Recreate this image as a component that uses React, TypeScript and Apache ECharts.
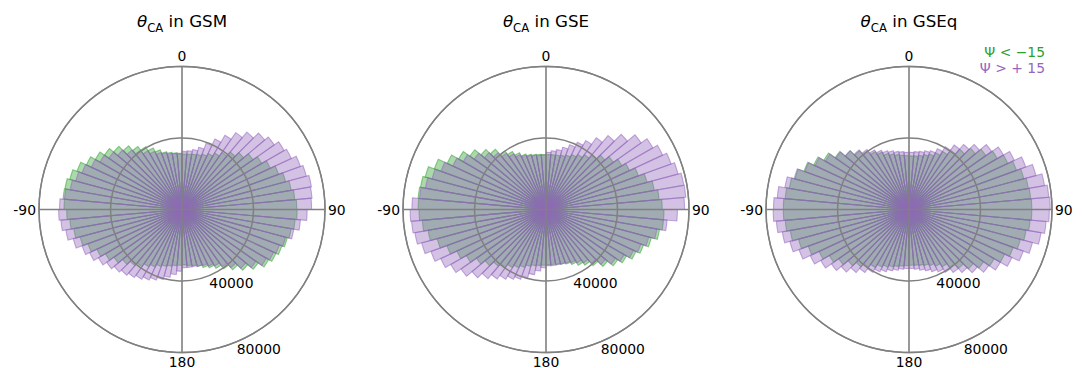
import React, { useEffect, useRef } from 'react';
import * as echarts from 'echarts';

// 72 angular bins of 5 degrees, starting at 0 (top), clockwise
const BIN_STARTS = Array.from({ length: 72 }, (_, i) => i * 5);
const PANEL_NAMES = ['GSM', 'GSE', 'GSEq'];
const RADIAL_MAX = 80000;
const RADIAL_STEP = 40000;
const LEGEND_NEG = 'Ψ < −15';
const LEGEND_POS = 'Ψ > + 15';

// counts per bin, Psi < -15
const GSM_NEG = [
  31000, 31200, 31500, 32000, 33000, 34500, 36500, 39000, 42000, 45000, 48500, 51500, 54500, 57500, 60000, 62000, 63300, 64200,
  64400, 63500, 62000, 61000, 59500, 58000, 56000, 52000, 48000, 44000, 40500, 38000, 36000, 34500, 33000, 32000, 31500, 31000,
  31200, 31500, 32200, 33000, 34000, 35500, 37000, 39000, 41000, 43500, 46500, 49500, 52500, 56000, 59000, 61500, 63000, 64500,
  66000, 66800, 66500, 65000, 62500, 59000, 56000, 53000, 50000, 46500, 43000, 40500, 38000, 35500, 33500, 32500, 31800, 31200,
];
// counts per bin, Psi > +15
const GSM_POS = [
  32500, 33000, 34000, 36000, 39500, 43500, 48000, 52500, 56500, 60500, 63000, 66000, 67500, 70500, 72000, 73500, 73000, 72500,
  70000, 66500, 63500, 60000, 58000, 56500, 54500, 50500, 46500, 42500, 39000, 36500, 35000, 33500, 33000, 32500, 32500, 32500,
  34500, 36500, 38500, 40500, 42000, 43500, 45000, 46500, 48000, 49500, 51500, 54000, 57000, 59500, 63000, 66000, 68000, 69000,
  68500, 66000, 63500, 61500, 59500, 56000, 53000, 50000, 47000, 43500, 40500, 38000, 36000, 34000, 33000, 32000, 31500, 31500,
];
const GSE_NEG = [
  30800, 30800, 31000, 31500, 32500, 34000, 35500, 37500, 40000, 43000, 46000, 49000, 51500, 55000, 58500, 61500, 63500, 65000,
  66000, 66000, 64500, 61000, 58000, 55500, 52000, 49000, 45000, 41000, 38000, 36000, 34000, 32500, 31800, 31200, 31000, 31000,
  31200, 31500, 32000, 33000, 34500, 36000, 37500, 39500, 41500, 44500, 47500, 51500, 55000, 59000, 63000, 67000, 69500, 71000,
  71500, 71800, 71300, 70000, 66500, 61000, 56500, 52000, 47500, 44000, 40000, 37500, 35000, 33000, 32000, 31300, 31000, 30800,
];
const GSE_POS = [
  32000, 33000, 34000, 36000, 38500, 41500, 44500, 49000, 54000, 59500, 65000, 69000, 72000, 74500, 76500, 78300, 78500, 77500,
  73500, 68000, 63000, 59500, 56500, 54000, 50500, 47500, 43500, 39500, 36500, 34500, 33000, 32000, 31500, 31500, 31500, 31500,
  32500, 34500, 37000, 39500, 41500, 43000, 45000, 47500, 50500, 54000, 58000, 61500, 65000, 68500, 72000, 74500, 75500, 76000,
  75000, 71000, 68500, 66000, 62500, 57500, 53500, 49000, 45000, 41500, 38500, 36000, 34000, 32500, 31500, 31000, 30500, 30500,
];
const GSEQ_NEG = [
  30000, 30200, 30800, 31800, 33000, 35000, 37500, 40500, 44000, 48500, 52500, 57000, 61000, 64000, 66500, 67800, 68300, 68700,
  68700, 68000, 66500, 64500, 62000, 59000, 55000, 51000, 47000, 43000, 39500, 37000, 35000, 33500, 32500, 31800, 31300, 31200,
  31300, 31800, 32500, 33300, 34300, 35500, 37500, 39500, 41800, 44500, 48000, 51500, 55500, 60000, 64000, 67500, 69500, 70300,
  70300, 69500, 68000, 66000, 62500, 58800, 55000, 50500, 46500, 43000, 40000, 37500, 35500, 33500, 32300, 31300, 30600, 30200,
];
const GSEQ_POS = [
  32000, 32500, 33000, 34000, 35000, 37500, 40500, 44000, 47500, 51500, 56500, 61000, 65000, 69500, 73500, 77000, 78500, 79000,
  78500, 77000, 75000, 71500, 68000, 63500, 59000, 54500, 50000, 46000, 43000, 40500, 38500, 37000, 35500, 34500, 33500, 33000,
  33000, 33500, 34500, 35500, 37000, 38500, 40500, 43000, 46000, 49500, 53000, 57000, 61000, 65500, 69000, 72000, 74500, 76000,
  75800, 74000, 70500, 66500, 62000, 58000, 54000, 50000, 46500, 43500, 41000, 38500, 36500, 35000, 34000, 33000, 32500, 32000,
];

const NEG_SERIES = [GSM_NEG, GSE_NEG, GSEQ_NEG];
const POS_SERIES = [GSM_POS, GSE_POS, GSEQ_POS];

const GREEN = 'rgba(44,160,44,0.4)';
const PURPLE = 'rgba(148,103,189,0.4)';
const PURPLE_EDGE = 'rgba(148,103,189,0.55)';
const GREEN_EDGE = 'rgba(44,160,44,0.5)';
const GRID = '#808080';
const FONT = 'DejaVu Sans';

export default function App() {
  const ref = useRef<HTMLDivElement>(null);
  useEffect(() => {
    const chart = echarts.init(ref.current as HTMLDivElement, null, { renderer: 'svg' });
    const centers: [number, number][] = [[182, 209.5], [546, 209.5], [909, 209.5]];
    const R = 143;
    const polar: any[] = [];
    const angleAxis: any[] = [];
    const radiusAxis: any[] = [];
    const series: any[] = [];
    const title: any[] = [];

    centers.forEach((c, k) => {
      const pBars = 3 * k;
      const pGrid = 3 * k + 1;
      const pLab = 3 * k + 2;
      polar.push({ center: c, radius: R }, { center: c, radius: R }, { center: c, radius: R });

      // bars polar
      angleAxis.push({
        polarIndex: pBars, type: 'category', data: BIN_STARTS.map(String), startAngle: 90, clockwise: true,
        boundaryGap: true, axisLine: { show: false }, axisTick: { show: false }, axisLabel: { show: false },
        splitLine: { show: false },
      });
      radiusAxis.push({ polarIndex: pBars, type: 'value', min: 0, max: RADIAL_MAX, show: false });

      // grid polar
      angleAxis.push({
        polarIndex: pGrid, type: 'value', min: 0, max: 360, interval: 90, startAngle: 90, clockwise: true, z: 10,
        axisLine: { show: true, lineStyle: { color: GRID, width: 1.3 } },
        axisTick: { show: false },
        axisLabel: {
          show: true, margin: 3, fontSize: 13.9, lineHeight: 12, fontFamily: FONT, color: '#000',
          formatter: (v: number) => (v === 360 ? '' : v === 0 ? '{top|0}' : v === 270 ? '-90' : String(v)),
          rich: {
            top: { fontSize: 13.9, lineHeight: 12, fontFamily: FONT, color: '#000', padding: [0, 0, 3, 0] },
          },
        },
        splitLine: { show: true, lineStyle: { color: GRID, width: 1.6 } },
      });
      radiusAxis.push({
        polarIndex: pGrid, type: 'value', min: 0, max: RADIAL_MAX, interval: RADIAL_STEP, z: 10,
        axisLine: { show: false }, axisTick: { show: false }, axisLabel: { show: false },
        splitLine: { show: true, lineStyle: { color: GRID, width: 1.5 } },
      });

      // radial label polar
      angleAxis.push({ polarIndex: pLab, type: 'value', min: 0, max: 360, startAngle: -67.5, show: false });
      radiusAxis.push({
        polarIndex: pLab, type: 'value', min: 0, max: RADIAL_MAX, interval: RADIAL_STEP, z: 10,
        axisLine: { show: false }, axisTick: { show: false }, splitLine: { show: false },
        axisLabel: {
          show: true, margin: 0, align: 'left', verticalAlign: 'top', fontSize: 13.9, fontFamily: FONT, color: '#000',
          formatter: (v: number) => (v === 0 ? '' : String(v)),
        },
      });

      series.push(
        {
          name: LEGEND_NEG, type: 'bar', coordinateSystem: 'polar', polarIndex: pBars, data: NEG_SERIES[k],
          barGap: '-100%', barCategoryGap: '0%',
          itemStyle: { color: GREEN, borderColor: GREEN_EDGE, borderWidth: 1.1 },
        },
        {
          name: LEGEND_POS, type: 'bar', coordinateSystem: 'polar', polarIndex: pBars, data: POS_SERIES[k],
          barGap: '-100%', barCategoryGap: '0%',
          itemStyle: { color: PURPLE, borderColor: PURPLE_EDGE, borderWidth: 1.1 },
        },
      );

      title.push({
        text: `{th|θ}{sub|CA}{n| in ${PANEL_NAMES[k]}}`,
        left: c[0], top: 8, textAlign: 'center', padding: 0,
        textStyle: {
          fontWeight: 'normal',
          rich: {
            th: { fontFamily: FONT, fontStyle: 'italic', fontWeight: 'normal', fontSize: 16.7, lineHeight: 26, color: '#000' },
            sub: { fontFamily: FONT, fontWeight: 'normal', fontSize: 11.7, lineHeight: 15, verticalAlign: 'bottom', color: '#000' },
            n: { fontFamily: FONT, fontWeight: 'normal', fontSize: 16.7, lineHeight: 26, color: '#000' },
          },
        },
      });
    });

    chart.setOption({
      animation: false,
      backgroundColor: '#fff',
      title,
      polar,
      angleAxis,
      radiusAxis,
      series,
      legend: [
        {
          data: [{ name: LEGEND_NEG, textStyle: { color: '#2ca02c' } }],
          right: 37, top: 45, padding: 0, icon: 'none', itemWidth: 0, itemHeight: 0, selectedMode: false,
          textStyle: { fontFamily: FONT, fontSize: 13.9 },
        },
        {
          data: [{ name: LEGEND_POS, textStyle: { color: '#9467bd' } }],
          right: 37, top: 61, padding: 0, icon: 'none', itemWidth: 0, itemHeight: 0, selectedMode: false,
          textStyle: { fontFamily: FONT, fontSize: 13.9 },
        },
      ],
    });
    return () => chart.dispose();
  }, []);

  return <div ref={ref} style={{ position: 'fixed', left: 0, top: 0, width: 1082, height: 368 }} />;
}
